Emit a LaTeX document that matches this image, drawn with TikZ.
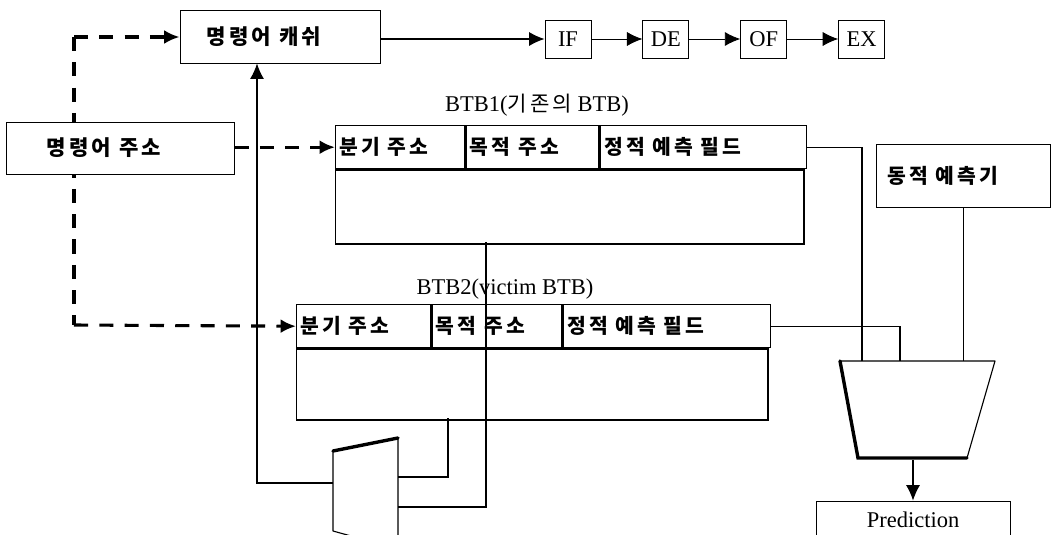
\documentclass[tikz,border=0pt]{standalone}
\usepackage{fontspec}
\setmainfont{Liberation Serif}
\newfontfamily\kr{Noto Sans CJK KR}[LetterSpace=15]
\usetikzlibrary{arrows.meta,positioning}

\begin{document}
\begin{tikzpicture}[
    x=0.025cm, y=-0.025cm,
    >={Latex[length=11pt,width=10pt]},
    font=\fontsize{16}{19}\selectfont,
    hangul/.style={font=\kr\bfseries\fontsize{15}{18}\selectfont},
    box/.style={draw, line width=0.6pt, fill=white, inner sep=0pt, hangul},
    stage/.style={draw, line width=0.6pt, minimum width=1.15cm, minimum height=0.95cm, inner sep=0pt},
    cell/.style={draw, line width=1pt, anchor=north west, inner sep=0pt},
    field/.style={anchor=west, inner sep=3pt, font=\kr\bfseries\fontsize{14.5}{17}\selectfont},
    wire/.style={line width=0.9pt},
    dashwire/.style={line width=2.2pt, dash pattern=on 10pt off 8pt},
    muxedge/.style={line width=0.8pt, line join=round},
    muxbold/.style={line width=2.4pt, line cap=round}
]
\useasboundingbox (0,0) rectangle (1051,534);
\clip (0,0) rectangle (1051,534);

% address lines (dashed), behind the boxes
\coordinate (dtop) at (74,37);
\coordinate (dbot) at (74,325);
\draw[dashwire] (dtop) -- (dbot);

% instruction cache, address, pipeline
\node[box, minimum width=5cm, minimum height=1.325cm] (cache) at (280,37) {명령어 캐쉬\hspace*{0.8cm}};
\node[box, minimum width=5.7cm, minimum height=1.3cm] (addr) at (120,148) {명령어 주소\hspace*{0.8cm}};
\node[stage] (ifst) at (568,39) {IF};
\node[stage, right=1.275cm of ifst] (dest) {DE};
\node[stage, right=1.275cm of dest] (ofst) {OF};
\node[stage, right=1.275cm of ofst] (exst) {EX};

% BTB1
\node (onetitle) at (537,105) {BTB1({\kr\fontsize{15}{18}\selectfont 기존의} BTB)};
\node[cell, minimum width=3.225cm, minimum height=1.075cm] (oneaddr) at (335,125) {};
\node[cell, minimum width=3.325cm, minimum height=1.075cm] (onetgt) at (oneaddr.north east) {};
\node[cell, minimum width=5.15cm, minimum height=1.075cm] (onestat) at (onetgt.north east) {};
\node[cell, minimum width=11.7cm, minimum height=1.85cm] (onebody) at (oneaddr.south west) {};
\node[field] at (oneaddr.west) {분기 주소};
\node[field] at (onetgt.west) {목적 주소};
\node[field] at (onestat.west) {정적 예측 필드};

% BTB2
\node (twotitle) at (505,289) {BTB2(victim BTB)};
\node[cell, minimum width=3.35cm, minimum height=1.075cm] (twoaddr) at (296,304) {};
\node[cell, minimum width=3.25cm, minimum height=1.075cm] (twotgt) at (twoaddr.north east) {};
\node[cell, minimum width=5.175cm, minimum height=1.075cm] (twostat) at (twotgt.north east) {};
\node[cell, minimum width=11.775cm, minimum height=1.775cm] (twobody) at (twoaddr.south west) {};
\node[field] at (twoaddr.west) {분기 주소};
\node[field] at (twotgt.west) {목적 주소};
\node[field] at (twostat.west) {정적 예측 필드};

% dynamic predictor, prediction
\node[box, line width=0.9pt, minimum width=4.35cm, minimum height=1.575cm, anchor=north west] (dyn) at (876,144) {};
\node[field, xshift=5pt] at (dyn.west) {동적 예측기};
\node[draw, line width=0.6pt, minimum width=4.85cm, minimum height=0.95cm] (pred) at (913,520) {Prediction};

% mux 1 (static / dynamic select)
\coordinate (monetl) at (840,361);
\coordinate (monetr) at (995,361);
\coordinate (monebr) at (967,458);
\coordinate (monebl) at (858,458);
\draw[muxedge, fill=white] (monetl) -- (monetr) -- (monebr) -- (monebl) -- cycle;
\draw[muxbold] (monebr) -- (monebl) -- (monetl);
\coordinate (monein1) at (862,361);
\coordinate (monein2) at (900,361);
\coordinate (moneout) at (913,460);

% mux 2 (target select)
\coordinate (mtwotl) at (333,451);
\coordinate (mtwotr) at (398,438);
\coordinate (mtwobr) at (398,549);
\coordinate (mtwobl) at (333,531);
\draw[muxedge, fill=white] (mtwotl) -- (mtwotr) -- (mtwobr) -- (mtwobl) -- cycle;
\draw[muxbold] (mtwotl) -- (mtwotr);
\coordinate (mtwoin1) at (398,477);
\coordinate (mtwoin2) at (398,507);
\coordinate (mtwoout) at (333,483);
\coordinate (onetap) at (486,242);
\coordinate (twotap) at (448,418);
\coordinate (cachein) at (257,63.5);

% connectors
\draw[dashwire, ->] (dtop) -- (cache.west);
\draw[dashwire, ->] (addr.east |- oneaddr.west) -- (oneaddr.west);
\draw[dashwire, ->] (dbot) -- (twoaddr.west);
\draw[wire, ->] (cache.east |- ifst.west) -- (ifst.west);
\draw[->, line width=0.6pt] (ifst) -- (dest);
\draw[->, line width=0.6pt] (dest) -- (ofst);
\draw[->, line width=0.6pt] (ofst) -- (exst);
\draw[wire] (onestat.east) -| (monein1);
\draw[wire] (twostat.east) -| (monein2);
\draw[wire] (dyn.south) -- (dyn.south |- monetl);
\draw[wire, ->] (moneout) -- (pred.north);
\draw[wire] (onetap) |- (mtwoin2);
\draw[wire] (twotap) |- (mtwoin1);
\draw[wire, ->] (mtwoout) -| (cachein);
\end{tikzpicture}
\end{document}
